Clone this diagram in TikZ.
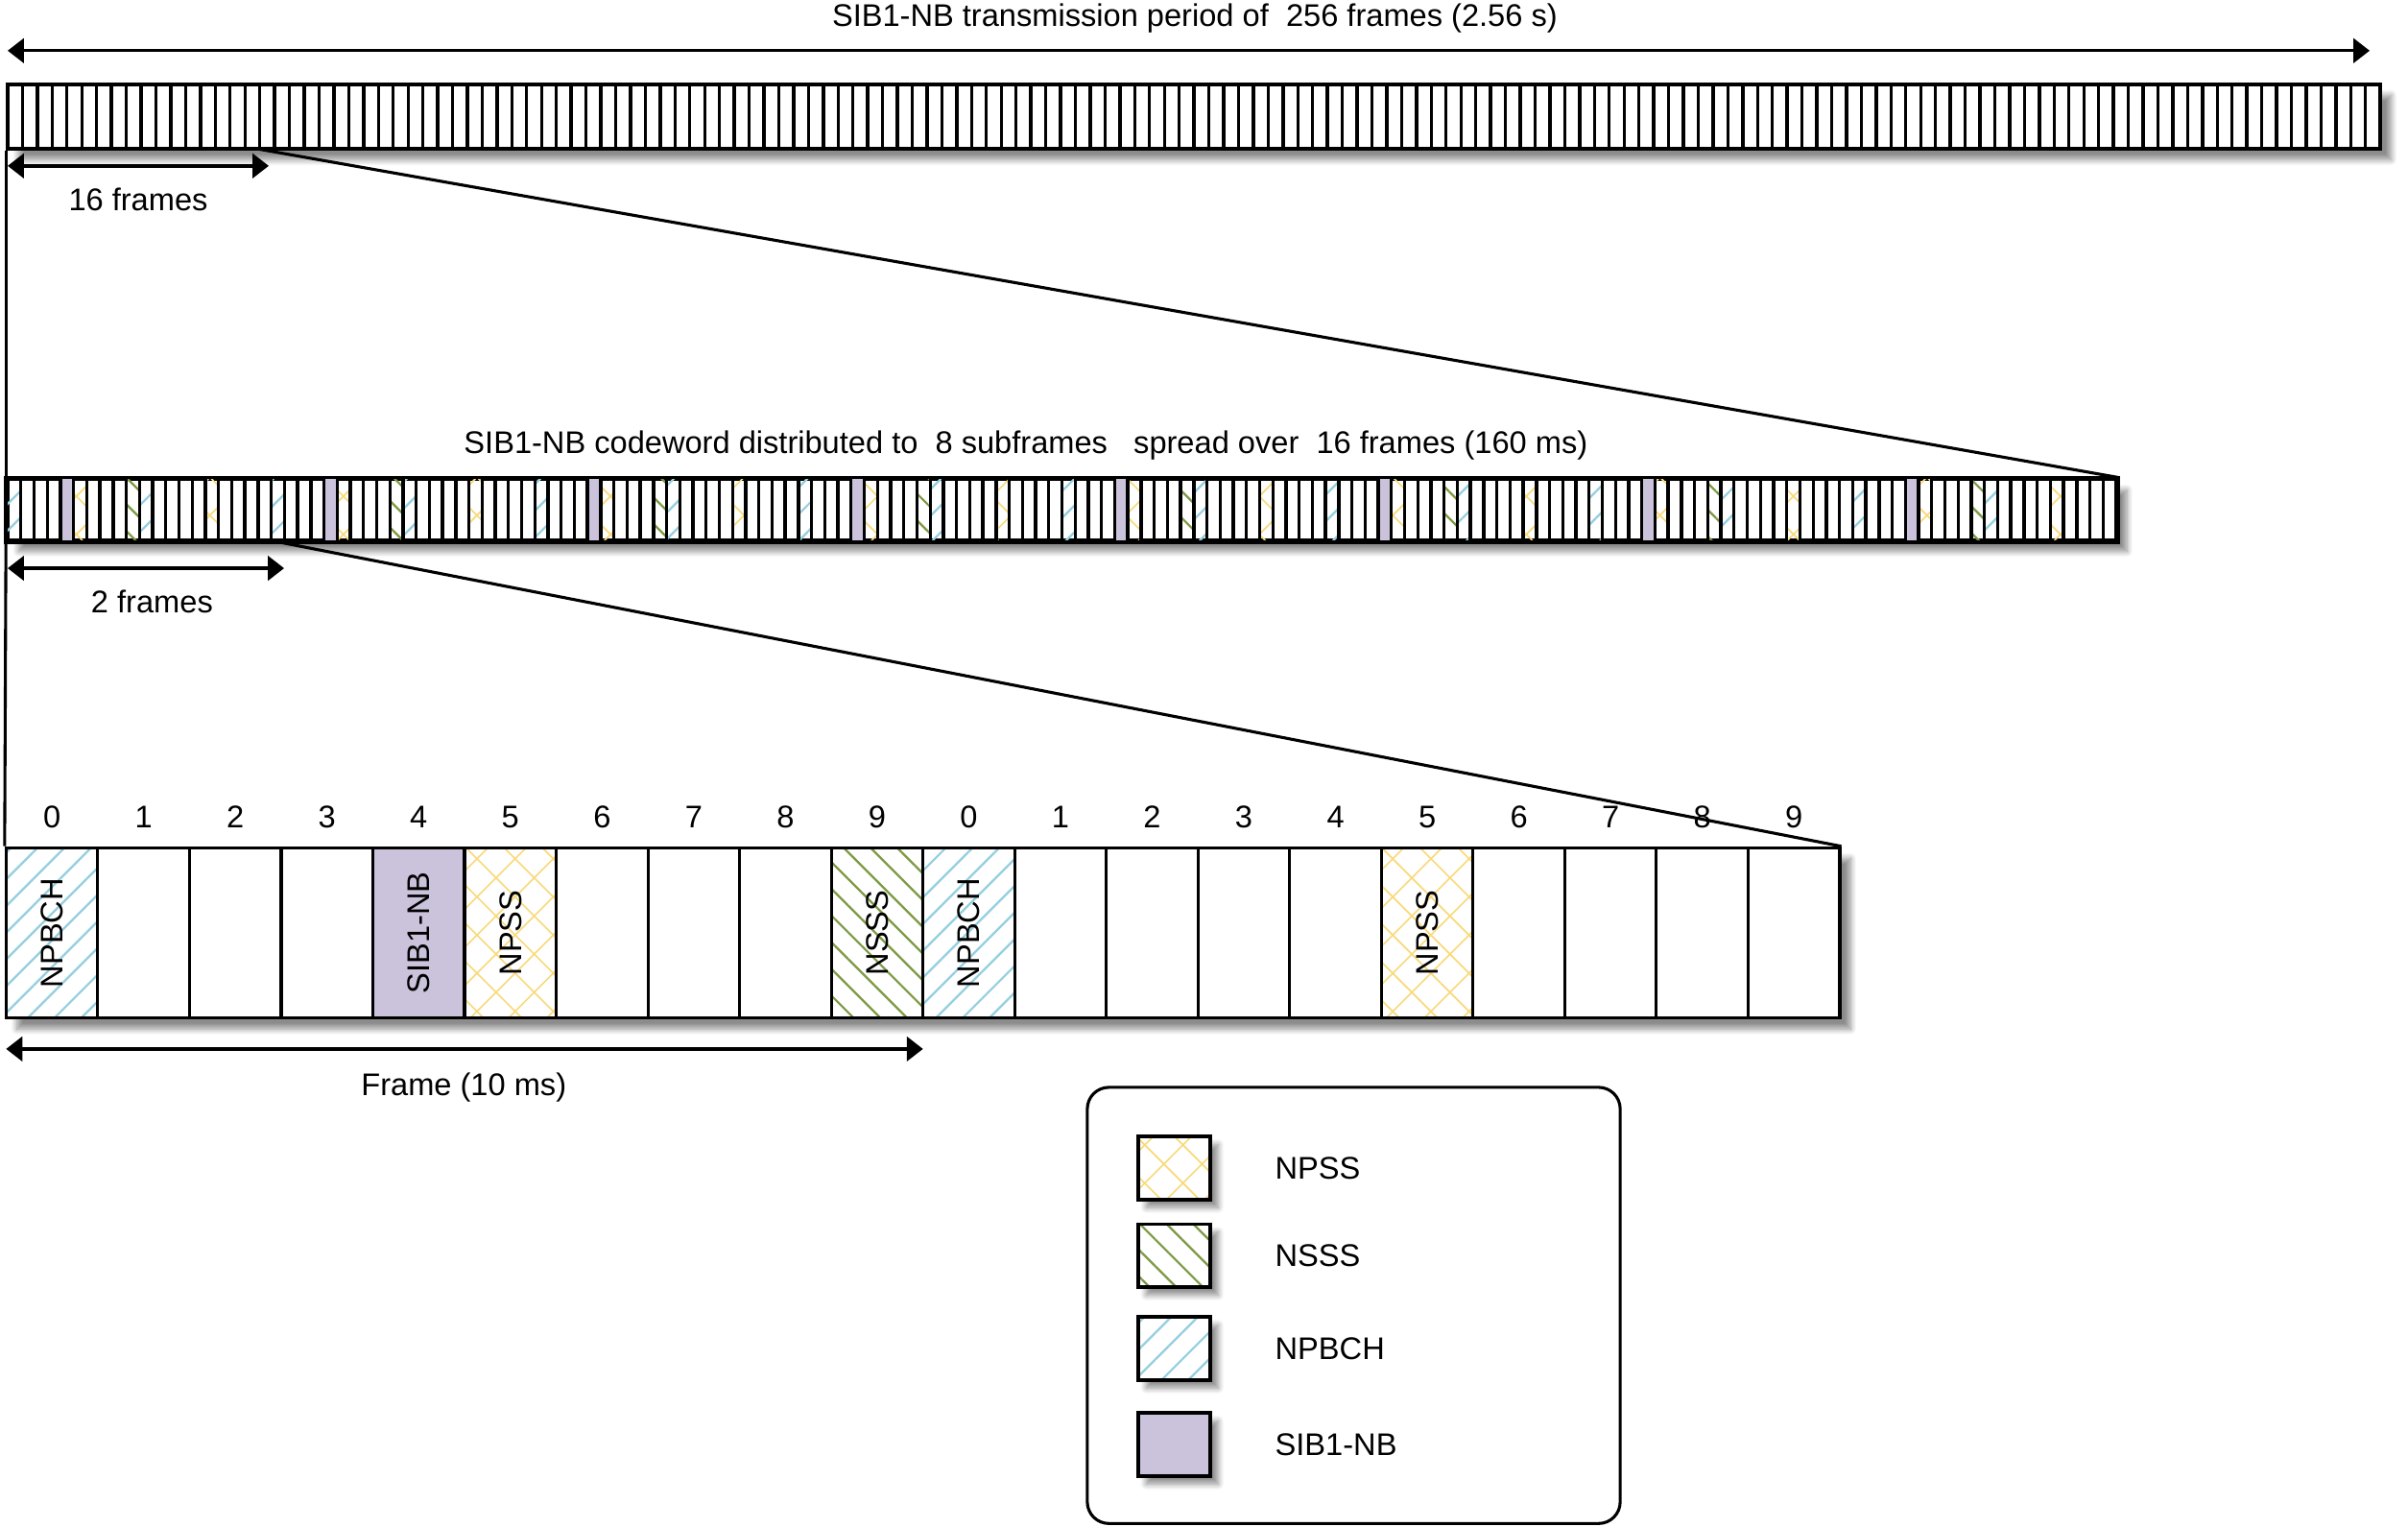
\documentclass[tikz,border=0pt]{standalone}
\usepackage{fontspec}
\setmainfont{Liberation Sans}
\usetikzlibrary{arrows.meta,patterns.meta,shadows.blur,fit,positioning}

\definecolor{npssyellow}{HTML}{F9D97A}
\definecolor{nsssgreen}{HTML}{7E9A44}
\definecolor{npbchblue}{HTML}{95CFE0}
\definecolor{sibpurple}{HTML}{CBC2DB}

\tikzset{
  lbl/.style={font=\fontsize{11.6}{13}\selectfont},
  leglbl/.style={font=\fontsize{11.6}{13}\selectfont},
  barbox/.style={draw, line width=1.3pt, fill=white, inner sep=0pt,
    blur shadow={shadow xshift=4pt, shadow yshift=-4pt, shadow blur steps=10, shadow opacity=45}},
  cellline/.style={line width=1.2pt},
  span/.style={{Triangle[length=6pt,width=9pt]}-{Triangle[length=6pt,width=9pt]}, line width=1.2pt},
  zoomline/.style={line width=1.1pt},
  npss/.style={pattern={Hatch[angle=45,distance=10pt,line width=0.6pt]}, pattern color=npssyellow},
  nsss/.style={pattern={Lines[angle=-45,distance=7pt,line width=0.8pt]}, pattern color=nsssgreen},
  npbch/.style={pattern={Lines[angle=45,distance=7pt,line width=0.8pt]}, pattern color=npbchblue},
  sib/.style={fill=sibpurple},
  legsq/.style={draw, line width=1.3pt, minimum width=0.94cm, minimum height=0.82cm, inner sep=0pt,
    blur shadow={shadow xshift=3pt, shadow yshift=-3pt, shadow blur steps=8, shadow opacity=45},
    preaction={fill=white}},
}

\begin{document}
\begin{tikzpicture}[x=0.02cm, y=-0.02cm]
  \useasboundingbox (0,0) rectangle (1568,994);

  % ---------- Top bar: whole transmission period ----------
  \node[lbl] (ttitle) at (778,12) {SIB1-NB transmission period of\ \ 256 frames (2.56 s)};
  \coordinate (tl) at (5,33);
  \coordinate (tr) at (1543,33);
  \draw[span] (tl) -- (tr);
  \node[barbox, fit={(5,55) (1550,97)}] (topbar) {};
  \foreach \i in {1,...,159}
    \draw[cellline] ({5+\i*9.65625},55) -- ++(0,42);
  \coordinate (t16a) at (5,108);
  \coordinate (t16b) at (175,108);
  \draw[span] (t16a) -- (t16b);
  \node[lbl] (t16) at (90,130) {16 frames};
  \coordinate (tz) at (168,97);

  % ---------- Middle bar: 16 frames ----------
  \node[lbl] (mtitle) at (668,290) {SIB1-NB codeword distributed to\ \ 8 subframes\ \ \ spread over\ \ 16 frames (160 ms)};
  \node[barbox, fit={(5,312) (1378,352)}] (midbar) {};
  \foreach \f in {0,...,15} {
    \fill[npbch] ({5+10*\f*8.58125},312) rectangle ++(8.58125,40);
    \fill[npss] ({5+(10*\f+5)*8.58125},312) rectangle ++(8.58125,40);
  }
  \foreach \f in {0,2,...,14} {
    \fill[sib] ({5+(10*\f+4)*8.58125},312) rectangle ++(8.58125,40);
    \fill[nsss] ({5+(10*\f+9)*8.58125},312) rectangle ++(8.58125,40);
  }
  \foreach \i in {1,...,159}
    \draw[cellline] ({5+\i*8.58125},312) -- ++(0,40);
  \draw[line width=1.3pt] (midbar.north west) rectangle (midbar.south east);
  \draw[zoomline] (topbar.south west) -- (midbar.north west);
  \draw[zoomline] (tz) -- (midbar.north east);
  \coordinate (m2a) at (5,370);
  \coordinate (m2b) at (185,370);
  \draw[span] (m2a) -- (m2b);
  \node[lbl] (m2) at (99,392) {2 frames};
  \coordinate (mz) at (176.6,352);

  % ---------- Bottom bar: 2 frames of subframes ----------
  \node[barbox, line width=1.1pt, fit={(4,552) (1198,663)}] (frbar) {};
  \foreach \i/\kind/\txt in {0/npbch/NPBCH, 4/sib/SIB1-NB, 5/npss/NPSS, 9/nsss/NSSS, 10/npbch/NPBCH, 15/npss/NPSS} {
    \fill[\kind] ({4+\i*59.7},552) rectangle ++(59.7,111);
    \node[leglbl, rotate=90] (c\i) at ({33.85+\i*59.7},607.5) {\txt};
  }
  \foreach \i in {0,...,19} {
    \draw[line width=1.1pt] ({4+\i*59.7},552) rectangle ++(59.7,111);
    \pgfmathtruncatemacro{\sfno}{mod(\i,10)}
    \node[lbl] (sf\i) at ({33.85+\i*59.7},532) {\sfno};
  }
  \draw[zoomline] (midbar.south west) -- (frbar.north west);
  \draw[zoomline] (mz) -- (frbar.north east);
  \coordinate (fa) at (4,683);
  \coordinate (fb) at (601,683);
  \draw[span] (fa) -- (fb);
  \node[lbl] (flbl) at (302,708) {Frame (10 ms)};

  % ---------- Legend ----------
  \node[draw, line width=1.1pt, rounded corners=8pt, inner sep=0pt, fit={(708,708) (1055,992)}] (legend) {};
  \foreach \k/\txt/\y in {npss/NPSS/760.5, nsss/NSSS/817.5, npbch/NPBCH/878, sib/SIB1-NB/940.5} {
    \node[legsq, \k] (leg\k) at (764.5,\y) {};
    \node[leglbl, right=0.7cm of leg\k] (lt\k) {\txt};
  }
\end{tikzpicture}
\end{document}
